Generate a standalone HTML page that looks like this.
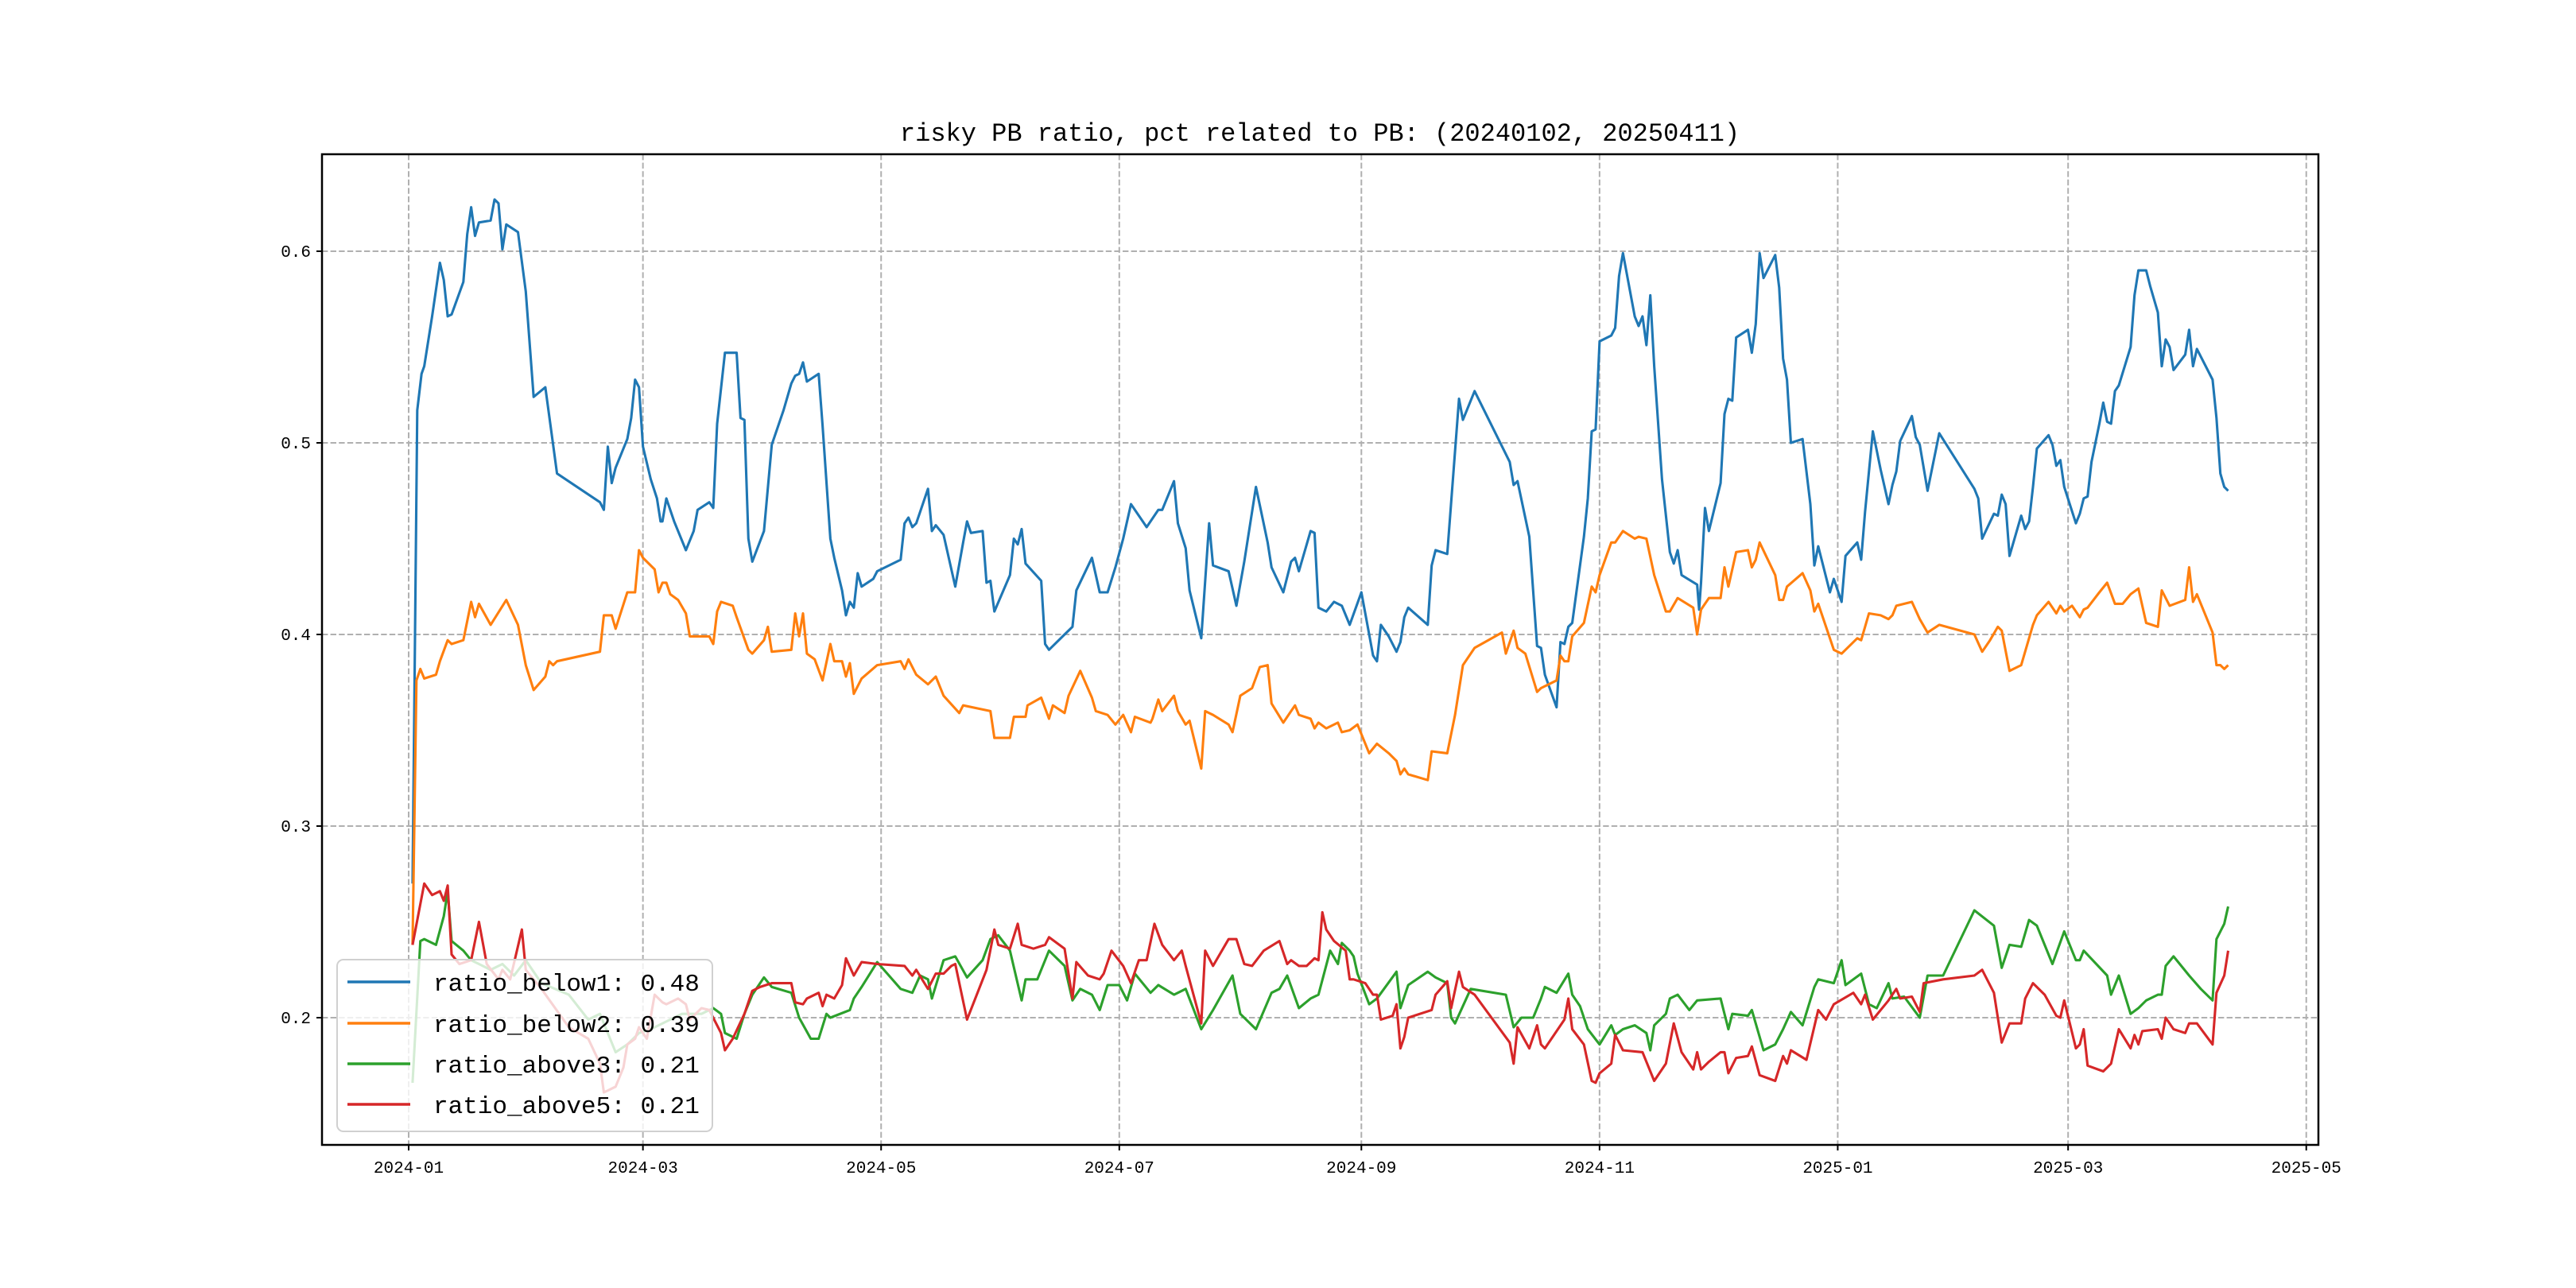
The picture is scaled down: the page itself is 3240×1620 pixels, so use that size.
<!DOCTYPE html>
<html><head><meta charset="utf-8"><style>
html,body{margin:0;padding:0;background:#fff;}
svg{display:block;}
text{font-family:"Liberation Mono","WenQuanYi Zen Hei",monospace;fill:#000;}
</style></head><body>
<svg id="chart" width="3240" height="1620" viewBox="0 0 3240 1620" xmlns="http://www.w3.org/2000/svg">
<rect x="0" y="0" width="3240" height="1620" fill="#fff"/>
<text x="1660" y="177" font-size="32" text-anchor="middle">risky PB ratio, pct related to PB: (20240102, 20250411)</text>
<g id="grid"></g>
<g id="series"></g>
<rect x="405" y="194" width="2511" height="1246" fill="none" stroke="#000" stroke-width="2.5"/>
<g id="axes"></g>
<g id="legend"></g>
</svg>
<script>
const yTicks=[0.2,0.3,0.4,0.5,0.6];
const xTickLabels=["2024-01","2024-03","2024-05","2024-07","2024-09","2024-11","2025-01","2025-03","2025-05"];
const xTickDays=[0,60,121,182,244,305,366,425,486];
const seriesNames=["ratio_below1","ratio_below2","ratio_above3","ratio_above5"];
const seriesLast=["0.48","0.39","0.21","0.21"];
const colors=["#1f77b4","#ff7f0e","#2ca02c","#d62728"];

const b1Days=[1,2.2,3.3,4,6,8,9,10,11,14,15,16,17,18,21,22,23,24,25,28,30,32,35,38,49,50,51,52,53,56,57,58,59,60,62,63.6,64.5,65,66,68,71,73,74,77,78,79,81,84,85,86,87,88,91,93,96,98,99,100,101,102,105,106,108,109,111,112,113,114,115,116,119,120,126,127,128,129,130,133,134,135,137,140,142,143,144,147,148,149,150,154,155,156,157,158,162,163,164,168,170,171,175,177,179,181,183,185,188,189,192,193,196,197,199,200,203,205,206,210,212,214,217,220,221,224,226,227,228,231,232,233,235,237,239,241,244,247,248,249,251,253,254,255,256,261,262,263,266,269,270,273,282,283,284,287,289,290,291,294,295,296,297,298,301,302,303,304,305,308,309,310,311,314,315,316,317,318,319,321,323,324,325,326,330,330.5,331,332,333,336,337,338,339,340,343,344,345,346,347,350,351,352,353,354,357,359,360,361,364,365,367,368,371,372,373,375,377,379,380,381,382,385,386,387,389,392,401,402,403,406,407,408,409,410,413,414,415,416,417,420,421,422,423,424,427,428,429,430,431,433,434,435,436,437,438,441,442,443,445,446,448,449,450,451,452,455,456,457,458,462,463,464,465,466];
const b1Vals=[0.27,0.517,0.536,0.540,0.566,0.594,0.585,0.566,0.567,0.584,0.609,0.623,0.608,0.615,0.616,0.627,0.625,0.601,0.614,0.610,0.579,0.524,0.529,0.484,0.469,0.465,0.498,0.479,0.487,0.502,0.513,0.533,0.529,0.498,0.481,0.471,0.459,0.459,0.471,0.459,0.444,0.454,0.465,0.469,0.466,0.510,0.547,0.547,0.513,0.512,0.450,0.438,0.454,0.499,0.517,0.531,0.535,0.536,0.542,0.532,0.536,0.509,0.450,0.440,0.423,0.410,0.417,0.414,0.432,0.425,0.429,0.433,0.439,0.458,0.461,0.456,0.458,0.476,0.454,0.457,0.452,0.425,0.448,0.459,0.453,0.454,0.427,0.428,0.412,0.431,0.450,0.447,0.455,0.437,0.428,0.395,0.392,0.400,0.404,0.423,0.440,0.422,0.422,0.435,0.450,0.468,0.459,0.456,0.465,0.465,0.480,0.458,0.445,0.423,0.398,0.458,0.436,0.433,0.415,0.438,0.477,0.448,0.435,0.422,0.438,0.440,0.433,0.454,0.453,0.414,0.412,0.417,0.415,0.405,0.422,0.389,0.386,0.405,0.399,0.391,0.396,0.409,0.414,0.405,0.436,0.444,0.442,0.523,0.512,0.527,0.490,0.478,0.480,0.451,0.394,0.393,0.379,0.362,0.396,0.395,0.404,0.406,0.451,0.471,0.506,0.507,0.553,0.556,0.560,0.587,0.599,0.566,0.561,0.566,0.551,0.577,0.540,0.481,0.443,0.437,0.444,0.431,0.426,0.413,0.427,0.466,0.454,0.479,0.515,0.523,0.522,0.555,0.559,0.547,0.562,0.599,0.586,0.598,0.581,0.544,0.533,0.500,0.502,0.468,0.436,0.446,0.422,0.429,0.417,0.441,0.448,0.439,0.464,0.506,0.486,0.468,0.478,0.485,0.501,0.514,0.503,0.499,0.475,0.505,0.476,0.471,0.450,0.463,0.462,0.473,0.468,0.441,0.462,0.455,0.459,0.477,0.497,0.504,0.499,0.488,0.491,0.477,0.458,0.463,0.471,0.472,0.490,0.510,0.521,0.511,0.510,0.527,0.530,0.550,0.577,0.590,0.590,0.582,0.568,0.540,0.554,0.550,0.538,0.546,0.559,0.540,0.549,0.533,0.513,0.484,0.477,0.475];

const b2Days=[1,2,3,4,7,8,10,11,14,16,17,18,21,25,28,30,32,35,36,37,38,49,50,52,53,56,58,59,60,63,64,65,66,67,69,71,72,77,78,79,80,83,84,87,88,91,92,93,98,99,100,101,102,104,106,108,109,111,112,113,114,116,120,126,127,128,130,133,135,137,141,142,149,150,154,155,158,158.5,162,164,165,168,169,172,175,176,179,181,183,185,186,190,190.5,192,193,196,197,199,200,203,204,206,210,211,213,216,218,220,221,224,225,227,228,231,232,233,235,238,239,241,243,246,248,251,253,254,255,256,261,262,266,268,270,273,280,281,283,284,286,289,290,294,295,296,297,298,301,303,304,305,308,309,311,314,315,317,319,322,323,325,329,330,331,333,336,337,338,340,343,344,345,346,350,351,352,353,357,359,360,361,365,367,371,372,373,374,377,379,380,381,385,387,389,392,401,403,405,407,408,410,413,416,417,420,422,423,424,426,428,429,430,433,435,437,439,441,443,445,448,449,451,455,456,457,458,462,463,464,465,466];
const b2Vals=[0.238,0.376,0.382,0.377,0.379,0.386,0.397,0.395,0.397,0.417,0.409,0.416,0.405,0.418,0.405,0.384,0.371,0.378,0.386,0.384,0.386,0.391,0.410,0.410,0.403,0.422,0.422,0.444,0.440,0.434,0.422,0.427,0.427,0.421,0.418,0.411,0.399,0.399,0.395,0.412,0.417,0.415,0.409,0.392,0.390,0.397,0.404,0.391,0.392,0.411,0.399,0.411,0.390,0.387,0.376,0.395,0.386,0.386,0.378,0.385,0.369,0.377,0.384,0.386,0.382,0.387,0.379,0.374,0.378,0.368,0.359,0.363,0.360,0.346,0.346,0.357,0.357,0.363,0.367,0.356,0.363,0.359,0.368,0.381,0.367,0.360,0.358,0.353,0.358,0.349,0.357,0.354,0.356,0.366,0.360,0.368,0.360,0.353,0.355,0.330,0.360,0.358,0.353,0.349,0.368,0.372,0.383,0.384,0.364,0.354,0.357,0.363,0.358,0.356,0.351,0.354,0.351,0.354,0.349,0.350,0.353,0.338,0.343,0.338,0.334,0.327,0.330,0.327,0.324,0.339,0.338,0.358,0.384,0.393,0.401,0.390,0.402,0.393,0.390,0.370,0.372,0.376,0.389,0.386,0.386,0.399,0.406,0.425,0.422,0.431,0.448,0.448,0.454,0.450,0.451,0.450,0.431,0.412,0.412,0.419,0.414,0.400,0.413,0.419,0.419,0.435,0.425,0.443,0.444,0.435,0.439,0.448,0.431,0.418,0.418,0.425,0.432,0.423,0.412,0.416,0.392,0.390,0.398,0.397,0.404,0.411,0.410,0.408,0.410,0.415,0.417,0.408,0.401,0.405,0.400,0.391,0.397,0.404,0.402,0.381,0.384,0.405,0.410,0.417,0.411,0.415,0.412,0.415,0.409,0.413,0.414,0.422,0.427,0.416,0.416,0.421,0.424,0.406,0.404,0.423,0.415,0.418,0.435,0.417,0.421,0.401,0.384,0.384,0.382,0.384];

const a3Days=[1,3,4,7,9,10,11,14,16,18,21,24,27,30,34,41,46,49,53,56,59,62,67,70,75,78,80,81,84,86,88,91,93,98,100,103,105,107,108,113,114,116,120,123,126,129,131,133,134,137,140,143,147,149,151,154,157,158,161,164,168,170,172,175,177,179,182,184,186,190,192,196,199,203,206,211,213,217,221,223,225,228,231,233,236,238,239,241,242,243,246,248,253,254,256,261,263,266,267,268,272,281,283,285,288,290,291,294,297,298,300,302,305,308,309,311,314,317,318,319,322,323,325,328,330,336,338,339,343,344,347,350,352,354,357,360,361,365,367,368,372,374,376,379,380,383,387,389,393,401,406,408,410,413,415,417,421,424,427,428,429,435,436,438,441,443,445,448,449,450,452,456,459,462,463,465,466];
const a3Vals=[0.166,0.240,0.241,0.238,0.253,0.266,0.240,0.235,0.230,0.228,0.225,0.228,0.222,0.230,0.218,0.212,0.199,0.202,0.182,0.186,0.192,0.194,0.199,0.202,0.202,0.205,0.202,0.192,0.189,0.202,0.212,0.221,0.216,0.213,0.200,0.189,0.189,0.202,0.200,0.204,0.210,0.216,0.229,0.222,0.215,0.213,0.222,0.220,0.210,0.230,0.232,0.221,0.230,0.241,0.243,0.235,0.209,0.220,0.220,0.235,0.227,0.209,0.215,0.212,0.204,0.217,0.217,0.209,0.223,0.213,0.217,0.212,0.215,0.194,0.204,0.222,0.202,0.194,0.213,0.215,0.222,0.205,0.210,0.212,0.235,0.228,0.239,0.235,0.232,0.223,0.207,0.210,0.224,0.205,0.217,0.224,0.221,0.218,0.200,0.197,0.215,0.212,0.195,0.200,0.200,0.210,0.216,0.213,0.223,0.212,0.206,0.194,0.186,0.196,0.191,0.194,0.196,0.192,0.183,0.196,0.202,0.210,0.212,0.204,0.209,0.210,0.194,0.202,0.201,0.204,0.183,0.186,0.194,0.203,0.196,0.216,0.220,0.218,0.230,0.217,0.223,0.207,0.205,0.218,0.210,0.211,0.200,0.222,0.222,0.256,0.248,0.226,0.238,0.237,0.251,0.248,0.228,0.245,0.230,0.230,0.235,0.222,0.212,0.222,0.202,0.205,0.209,0.212,0.212,0.227,0.232,0.222,0.215,0.209,0.241,0.249,0.258];

const a5Days=[1,4,6,8,9,10,11,13,16,18,20,23,24,26,29,30,34,41,46,49,50,52,53,55,56,58,59,61,63,65,66,69,71,72,75,77,80,81,83,86,88,90,93,98,99,101,102,105,106,107,109,111,112,114,116,120,127,129,130,133,135,137,139,140,143,148,150,151,154,156,157,160,163,164,168,170,171,174,177,178,180,183,185,187,189,191,193,196,198,199,203,204,206,210,212,214,216,219,223,225,226,228,230,232,233,234,235,237,240,241,242,245,247,248,249,252,253,254,255,256,262,263,266,267,269,270,273,282,283,284,287,289,290,291,296,297,298,301,303,304,305,308,309,311,316,319,322,324,326,329,330,331,333,336,337,338,340,343,344,346,350,352,353,354,358,361,363,365,370,372,373,375,379,381,382,385,387,388,393,401,403,404,406,408,410,413,414,416,419,422,423,424,427,428,429,430,434,436,438,441,442,443,444,448,449,450,452,455,456,458,462,463,465,466];
const a5Vals=[0.238,0.270,0.264,0.266,0.261,0.269,0.233,0.228,0.230,0.250,0.228,0.220,0.225,0.220,0.246,0.225,0.215,0.195,0.189,0.176,0.161,0.163,0.164,0.174,0.186,0.189,0.195,0.189,0.212,0.208,0.207,0.210,0.207,0.199,0.205,0.204,0.192,0.183,0.189,0.202,0.214,0.216,0.218,0.218,0.208,0.207,0.210,0.213,0.206,0.212,0.210,0.217,0.231,0.222,0.229,0.228,0.227,0.222,0.225,0.215,0.223,0.223,0.227,0.228,0.199,0.225,0.246,0.238,0.236,0.249,0.238,0.236,0.238,0.242,0.236,0.210,0.229,0.222,0.220,0.223,0.235,0.227,0.218,0.230,0.230,0.249,0.238,0.230,0.235,0.227,0.197,0.235,0.227,0.241,0.241,0.228,0.227,0.235,0.240,0.228,0.230,0.227,0.227,0.231,0.230,0.255,0.246,0.240,0.235,0.220,0.220,0.218,0.212,0.212,0.199,0.201,0.207,0.184,0.190,0.200,0.204,0.212,0.219,0.205,0.224,0.216,0.212,0.187,0.176,0.195,0.184,0.196,0.186,0.184,0.199,0.210,0.194,0.186,0.167,0.166,0.171,0.176,0.191,0.183,0.182,0.167,0.176,0.197,0.182,0.173,0.182,0.173,0.177,0.182,0.182,0.171,0.179,0.180,0.185,0.170,0.167,0.180,0.176,0.183,0.178,0.204,0.199,0.207,0.213,0.207,0.212,0.199,0.209,0.215,0.210,0.211,0.203,0.218,0.220,0.222,0.225,0.221,0.213,0.187,0.197,0.197,0.210,0.218,0.212,0.201,0.200,0.209,0.184,0.186,0.194,0.175,0.172,0.176,0.194,0.184,0.191,0.186,0.193,0.194,0.189,0.200,0.194,0.192,0.197,0.197,0.186,0.213,0.222,0.235];

const NS="http://www.w3.org/2000/svg";
const X0=405,X1=2916,Y0=194,Y1=1440;
function xs(day){return 514+day*4.911;}
function ys(v){return 316+(0.6-v)*2410;}
function mk(tag,attrs,parent){const e=document.createElementNS(NS,tag);for(const k in attrs)e.setAttribute(k,attrs[k]);parent.appendChild(e);return e;}

const grid=document.getElementById('grid');
const axes=document.getElementById('axes');
yTicks.forEach((t,i)=>{
  const y=ys(t);
  const gl=mk('line',{x1:X0,x2:X1,y1:y,y2:y,stroke:'#b0b0b0','stroke-width':2,'stroke-dasharray':'7.4,3.2'},grid);
  
  
  const tk=mk('line',{x1:X0-7,x2:X0,y1:y,y2:y,stroke:'#000','stroke-width':2},axes);
  
  
  const tx=mk('text',{x:X0-14,y:y+7,'font-size':21,'text-anchor':'end'},axes);
  tx.textContent=t.toFixed(1);
  
  
});
xTickDays.forEach((d,i)=>{
  const x=xs(d);
  const gl=mk('line',{x1:x,x2:x,y1:Y0,y2:Y1,stroke:'#b0b0b0','stroke-width':2,'stroke-dasharray':'7.4,3.2'},grid);
  
  
  const tk=mk('line',{x1:x,x2:x,y1:Y1,y2:Y1+7,stroke:'#000','stroke-width':2},axes);
  
  
  const tx=mk('text',{x:x,y:1475,'font-size':21,'text-anchor':'middle'},axes);
  tx.textContent=xTickLabels[i];
  
  
});

const seriesG=document.getElementById('series');
const allDays=[b1Days,b2Days,a3Days,a5Days];
const allVals=[b1Vals,b2Vals,a3Vals,a5Vals];
allDays.forEach((days,s)=>{
  const vals=allVals[s];
  let d='';
  for(let i=0;i<days.length;i++){d+=(i?'L':'M')+xs(days[i]).toFixed(1)+','+ys(vals[i]).toFixed(1);}
  const p=mk('path',{d:d,fill:'none',stroke:colors[s],'stroke-width':3.1,'stroke-linejoin':'round'},seriesG);
  
  
});

const lg=document.getElementById('legend');
const box=mk('rect',{x:424,y:1207,width:472,height:216,rx:8,fill:'#fff','fill-opacity':0.8,stroke:'#d0d0d0','stroke-width':2},lg);


const rowsY=[1235,1287,1338,1389];
seriesNames.forEach((n,i)=>{
  const ln=mk('line',{x1:437,x2:516,y1:rowsY[i],y2:rowsY[i],stroke:colors[i],'stroke-width':3.5},lg);
  
  
  const tx=mk('text',{x:545,y:rowsY[i]+11,'font-size':31},lg);
  tx.textContent=n+': '+seriesLast[i];
  
  
});
</script>
</body></html>
